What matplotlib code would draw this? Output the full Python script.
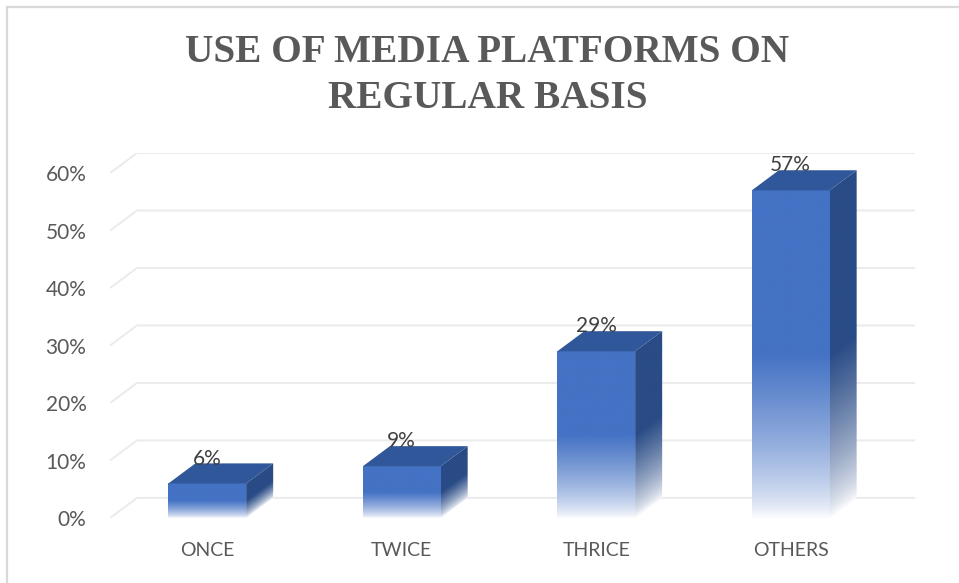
"""
Column chart with an oblique 3-D look: share of respondents by how often
they use media platforms.
"""

import numpy as np
import matplotlib
matplotlib.use("Agg")
import matplotlib.pyplot as plt
from matplotlib.patches import Polygon, Rectangle
from matplotlib.colors import to_rgb

# ─────────────────────────────────────────────
#  Data
# ─────────────────────────────────────────────
categories = ["ONCE", "TWICE", "THRICE", "OTHERS"]
shares = [6, 9, 29, 57]                 # percent
y_ticks = [0, 10, 20, 30, 40, 50, 60]

# ─────────────────────────────────────────────
#  Style
# ─────────────────────────────────────────────
FRONT = "#4472C4"
TOP = "#30579A"
SIDE = "#294B86"
GRID = "#ebebeb"
TEXT = "#595959"
LABEL = "#404040"

BAR_W = 0.40      # category units
DEPTH_X = 0.139   # oblique depth offset, category units
DEPTH_Y = 3.5     # oblique depth offset, percent units

W, H, DPI = 959, 583, 100
fig = plt.figure(figsize=(W / DPI, H / DPI), dpi=DPI)
ax = fig.add_axes([110 / W, (H - 518) / H, 805 / W, 365 / H])

x_lo, x_hi = -0.5, len(categories) - 0.5


def _fade(frac):
    """White -> full colour ramp over the lower half of a face."""
    t = np.clip(frac / 0.5, 0, 1) ** 0.7
    return np.clip(t, 0.04, 1)


def _shaded(colour, t):
    c = np.array(to_rgb(colour))
    return (1 - t)[..., None] + t[..., None] * c


# back-wall gridlines with the short oblique floor segment on the left
for v in y_ticks:
    ax.plot([x_lo, x_lo + DEPTH_X, x_hi + DEPTH_X],
            [v, v + DEPTH_Y, v + DEPTH_Y],
            color=GRID, lw=1.4, zorder=1, solid_capstyle="butt")

for i, v in enumerate(shares):
    xl, xr = i - BAR_W / 2, i + BAR_W / 2

    # front face: vertical fade
    ys = np.linspace(0, v, 200)
    img = _shaded(FRONT, _fade(ys / v))[:, None, :].repeat(2, axis=1)
    ax.imshow(img, extent=[xl, xr, 0, v], origin="lower",
              aspect="auto", interpolation="bilinear", zorder=3)

    # right side face: fade follows the face's own height
    side = Polygon([(xr, 0), (xr + DEPTH_X, DEPTH_Y),
                    (xr + DEPTH_X, v + DEPTH_Y), (xr, v)],
                   closed=True, facecolor="none", edgecolor="none",
                   transform=ax.transData)
    ax.add_patch(side)
    gx, gy = np.meshgrid(np.linspace(xr, xr + DEPTH_X, 40),
                         np.linspace(0, v + DEPTH_Y, 240))
    local_h = gy - (gx - xr) / DEPTH_X * DEPTH_Y
    s_img = _shaded(SIDE, _fade(local_h / v))
    im = ax.imshow(s_img, extent=[xr, xr + DEPTH_X, 0, v + DEPTH_Y],
                   origin="lower", aspect="auto",
                   interpolation="bilinear", zorder=3)
    im.set_clip_path(side)

    # top face
    ax.add_patch(Polygon([(xl, v), (xl + DEPTH_X, v + DEPTH_Y),
                          (xr + DEPTH_X, v + DEPTH_Y), (xr, v)],
                         closed=True, facecolor=TOP, edgecolor="none",
                         zorder=4))

    ax.annotate(f"{v}%", (i, v + DEPTH_Y), xytext=(0, 3.5),
                textcoords="offset points", ha="center", va="center",
                fontsize=15, color=LABEL, family="Lato", zorder=5)

ax.set_xlim(x_lo, x_hi + DEPTH_X)
ax.set_ylim(0, 60 + DEPTH_Y)
ax.set_frame_on(False)
ax.set_xticks(range(len(categories)))
ax.set_xticklabels(categories)
ax.set_yticks(y_ticks)
ax.set_yticklabels([f"{v}%" for v in y_ticks])
ax.tick_params(axis="x", length=0, pad=17, labelsize=14, labelcolor=TEXT)
ax.tick_params(axis="y", length=0, pad=17, labelsize=15, labelcolor=TEXT)
for lab in ax.get_xticklabels() + ax.get_yticklabels():
    lab.set_family("Lato")

# title
for txt, base in [("USE OF MEDIA PLATFORMS ON", 62), ("REGULAR BASIS", 108)]:
    fig.text(487.5 / W, 1 - base / H, txt, ha="center", va="baseline",
             family="Liberation Serif", weight="bold", fontsize=28.3,
             color=TEXT)

# chart-area border (runs off the right and bottom edges)
fig.add_artist(Rectangle((7 / W, -0.05), 1.0, 1.05 - 7 / H,
                         transform=fig.transFigure, fill=False,
                         edgecolor="#d9d9d9", lw=1.6))

fig.savefig("out.png", dpi=DPI)
